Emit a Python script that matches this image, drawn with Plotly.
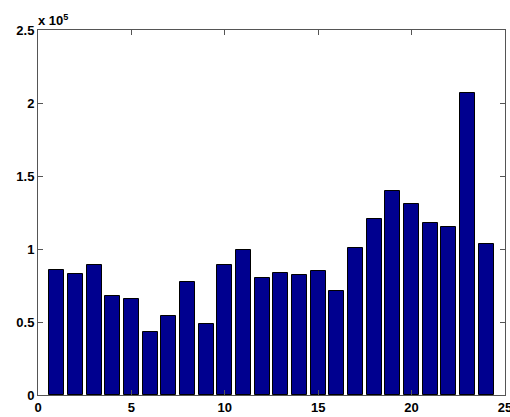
import plotly.graph_objects as go

# Data (in raw units; axis shows x 10^5)
categories = list(range(1, 25))
values = [85800, 83100, 89000, 67500, 66000, 43100, 54300, 77100, 48400, 89000,
          99000, 79900, 83500, 82200, 85100, 71200, 100400, 120300, 139500, 130800,
          117500, 115300, 207100, 103600]
x_ticks = [0, 5, 10, 15, 20, 25]
y_ticks = [0, 50000, 100000, 150000, 200000, 250000]
y_tick_labels = ["0", "0.5", "1", "1.5", "2", "2.5"]

fig = go.Figure()
fig.add_trace(go.Bar(
    x=categories, y=values, width=0.8,
    marker=dict(color="#00008F", line=dict(color="#000000", width=1)),
))

font = dict(family="Liberation Sans, Arial, sans-serif", size=12, color="#000000")
axis_common = dict(
    showgrid=False, zeroline=False, showline=True, linecolor="#555555", linewidth=1,
    mirror="ticks", ticks="inside", ticklen=5, tickcolor="#555555",
    ticklabeloverflow="allow", automargin=False,
    tickfont=dict(family="Liberation Sans, Arial, sans-serif", size=13, color="#000000", weight="bold"),
)
fig.update_layout(
    width=510, height=417,
    margin=dict(l=38, r=5, t=30, b=22, autoexpand=False),
    paper_bgcolor="white", plot_bgcolor="white",
    showlegend=False, bargap=0,
    font=font,
    xaxis=dict(range=[0, 25], tickvals=x_ticks, **axis_common),
    yaxis=dict(range=[0, 250000], tickvals=y_ticks, ticktext=y_tick_labels, **axis_common),
    annotations=[dict(
        text="<b>x 10<sup>5</sup></b>", x=0, y=1, xref="paper", yref="paper",
        xanchor="left", yanchor="bottom", showarrow=False, xshift=-2, yshift=0,
        font=dict(family="Liberation Sans, Arial, sans-serif", size=13, color="#000000"),
    )],
)
fig.write_html("out.html")
